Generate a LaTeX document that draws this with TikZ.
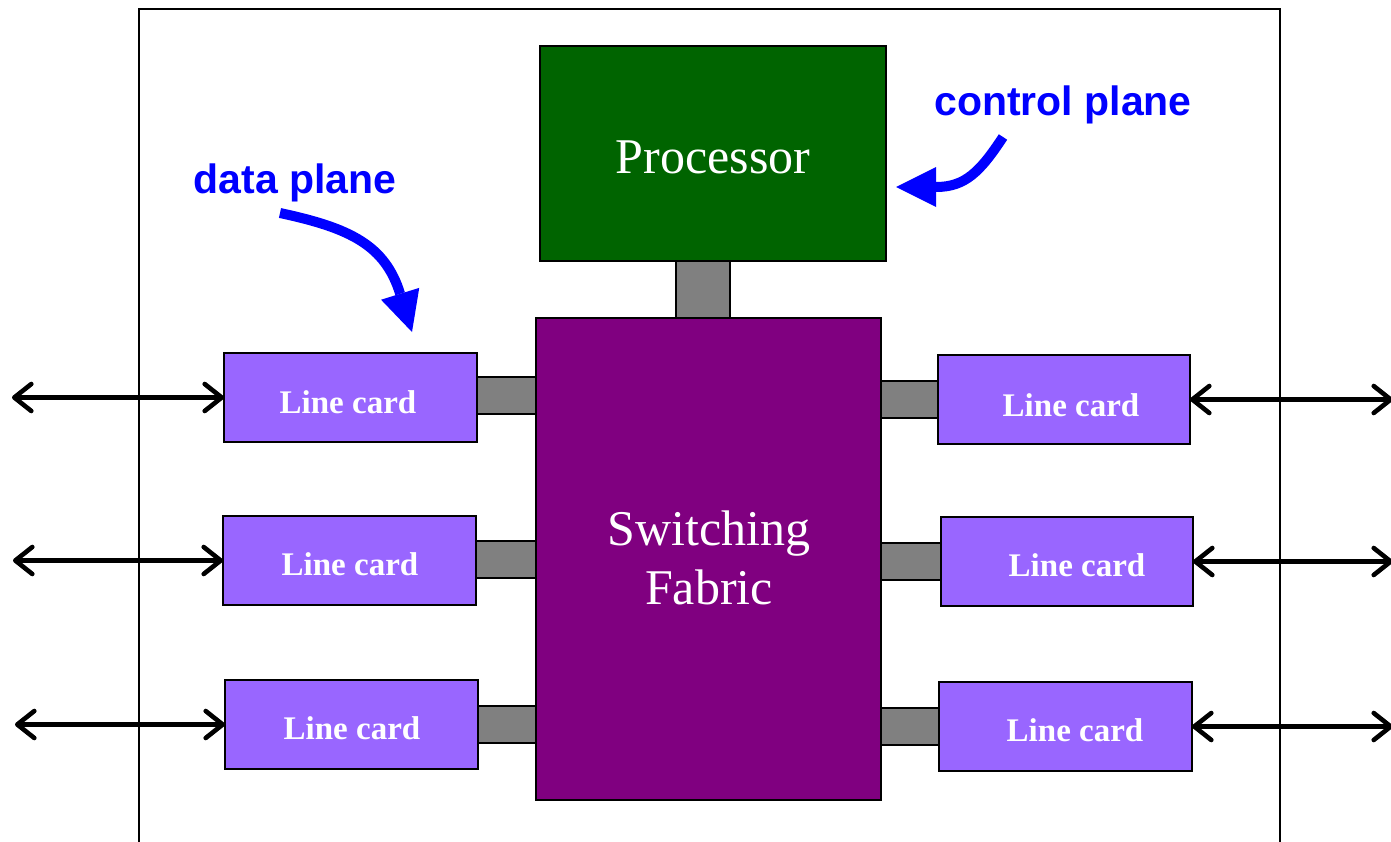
\documentclass[tikz,border=0pt]{standalone}
\usepackage{fontspec}
\setmainfont{Liberation Serif}
\newfontfamily\arialfont{Liberation Sans}
\usetikzlibrary{arrows.meta}
\definecolor{procgreen}{RGB}{0,100,0}
\definecolor{fabpurple}{RGB}{128,0,128}
\definecolor{cardpurple}{RGB}{153,102,255}
\definecolor{busgray}{RGB}{128,128,128}
\definecolor{planeblue}{RGB}{0,0,255}
\begin{document}
\begin{tikzpicture}[x=1pt,y=-1pt,
  box/.style={draw=black, line width=1.8pt, inner sep=0pt, outer sep=0pt, rectangle},
  bus/.style={box, fill=busgray},
  card/.style={box, fill=cardpurple, minimum width=253pt, minimum height=89pt},
  cardtext/.style={anchor=base, text=white, font=\bfseries\fontsize{33}{38}\selectfont, inner sep=0pt},
  frame/.style={draw=black, line width=1.6pt},
  biarrow/.style={line width=4.2pt, {Straight Barb[length=17pt,width=27pt,round,line width=4.6pt]}-{Straight Barb[length=17pt,width=27pt,round,line width=4.6pt]}},
  planearrow/.style={draw=planeblue, line width=10pt, -{Triangle[length=40pt,width=40pt,line width=0pt]}},
  planelabel/.style={anchor=base, text=planeblue, font=\arialfont\bfseries\fontsize{41}{48}\selectfont, inner sep=0pt}
]
\useasboundingbox (0,0) rectangle (1391,841);

% outer chassis
\draw[frame] (139,870) -- (139,9) -- (1280,9) -- (1280,870);

% connectors (gray stubs)
\node[bus, minimum width=54pt, minimum height=57pt] (pbus) at (703,289.5) {};
\node[bus, minimum width=59pt, minimum height=37pt] (lb1) at (506.5,395.5) {};
\node[bus, minimum width=60pt, minimum height=37pt] (lb2) at (506,559.5) {};
\node[bus, minimum width=58pt, minimum height=37pt] (lb3) at (507,724.5) {};
\node[bus, minimum width=59pt, minimum height=37pt] (rb1) at (908.5,399.5) {};
\node[bus, minimum width=60pt, minimum height=37pt] (rb2) at (911,561.5) {};
\node[bus, minimum width=59pt, minimum height=37pt] (rb3) at (909.5,726.5) {};

% processor
\node[box, fill=procgreen, minimum width=346pt, minimum height=215pt] (proc) at (713,153.5) {};
\node[anchor=base, text=white, font=\fontsize{50}{59}\selectfont, inner sep=0pt] (proct) at (713,173) {Processor};

% switching fabric
\node[box, fill=fabpurple, minimum width=345pt, minimum height=482pt] (fab) at (708.5,559) {};
\node[text=white, font=\fontsize{50}{59}\selectfont, align=center, inner sep=0pt] (fabt) at (709,558) {Switching\\Fabric};

% line cards left
\node[card] (lc1) at (350.5,397.5) {};
\node[card] (lc2) at (349.5,560.5) {};
\node[card] (lc3) at (351.5,724.5) {};
\node[cardtext] (lc1t) at (348,413) {Line card};
\node[cardtext] (lc2t) at (350,575) {Line card};
\node[cardtext] (lc3t) at (352,739) {Line card};

% line cards right
\node[card, minimum width=252pt] (rc1) at (1064,399.5) {};
\node[card, minimum width=252pt] (rc2) at (1067,561.5) {};
\node[card] (rc3) at (1065.5,726.5) {};
\node[cardtext] (rc1t) at (1071,416) {Line card};
\node[cardtext] (rc2t) at (1077,576) {Line card};
\node[cardtext] (rc3t) at (1075,741) {Line card};

% external links
\coordinate (le1) at (12,397.5);
\coordinate (le2) at (13,560.5);
\coordinate (le3) at (15,724.5);
\coordinate (re1) at (1393,399.5);
\coordinate (re2) at (1393,561.5);
\coordinate (re3) at (1393,726.5);
\draw[biarrow] (le1) -- (lc1.west);
\draw[biarrow] (le2) -- (lc2.west);
\draw[biarrow] (le3) -- (lc3.west);
\draw[biarrow] (rc1.east) -- (re1);
\draw[biarrow] (rc2.east) -- (re2);
\draw[biarrow] (rc3.east) -- (re3);

% plane labels
\node[planelabel] (dpl) at (295,193) {data plane};
\node[planelabel] (cpl) at (1063,115) {control plane};
\coordinate (dps) at (280,213);
\coordinate (dpe) at (412,332);
\coordinate (cps) at (1003,137);
\coordinate (cpe) at (896,187);
\draw[planearrow] (dps) .. controls (350,228) and (385,245) .. (dpe);
\draw[planearrow] (cps) .. controls (980,172) and (965,187) .. (cpe);
\end{tikzpicture}
\end{document}
